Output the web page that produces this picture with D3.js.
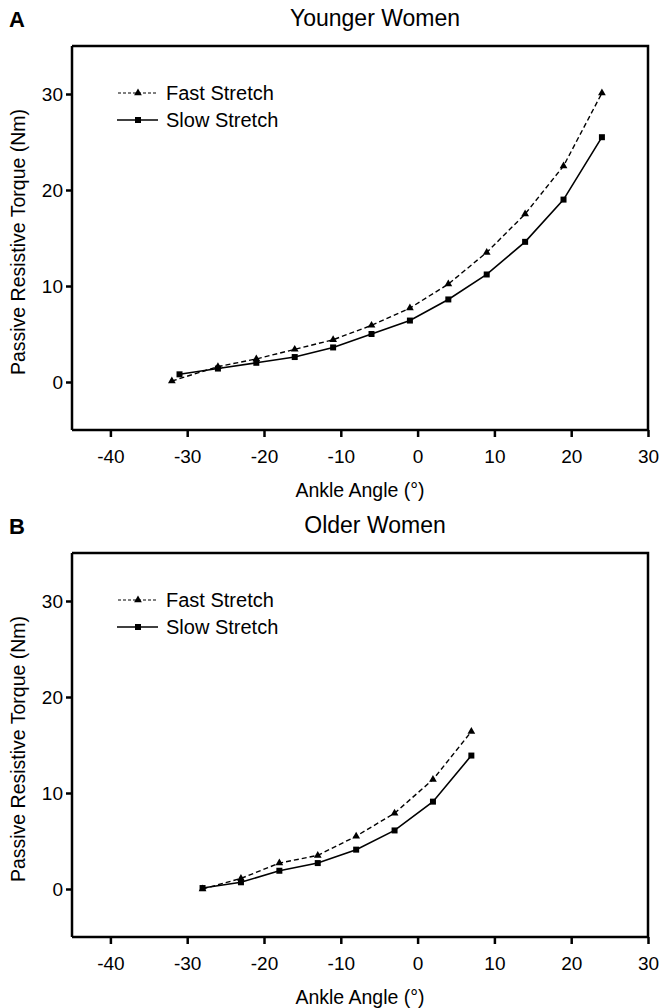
<!DOCTYPE html>
<html><head><meta charset="utf-8">
<script src="https://cdn.jsdelivr.net/npm/d3@7/dist/d3.min.js"></script>
<style>
html,body{margin:0;padding:0;background:#fff;}
text{font-family:"Liberation Sans",Arial,Helvetica,sans-serif;fill:#000;}
</style></head><body>
<svg id="chart" width="661" height="1008"></svg>
<script>
// ---- data ----
const panelLetters = ["A", "B"];
const panelTitles = ["Younger Women", "Older Women"];
const seriesNames = ["Fast Stretch", "Slow Stretch"];
const xTicks = [-40, -30, -20, -10, 0, 10, 20, 30];
const yTicks = [0, 10, 20, 30];
const xLabel = "Ankle Angle (°)";
const yLabel = "Passive Resistive Torque (Nm)";

const youngFastAngle = [-32, -26, -21, -16, -11, -6, -1, 4, 9, 14, 19, 24];
const youngFastTorque = [0.1, 1.6, 2.4, 3.4, 4.4, 5.9, 7.7, 10.2, 13.5, 17.5, 22.5, 30.1];
const youngSlowAngle = [-31, -26, -21, -16, -11, -6, -1, 4, 9, 14, 19, 24];
const youngSlowTorque = [0.8, 1.4, 2.0, 2.6, 3.6, 5.0, 6.4, 8.6, 11.2, 14.6, 19.0, 25.5];

const oldFastAngle = [-28, -23, -18, -13, -8, -3, 2, 7];
const oldFastTorque = [0.0, 1.1, 2.7, 3.5, 5.5, 7.9, 11.4, 16.4];
const oldSlowAngle = [-28, -23, -18, -13, -8, -3, 2, 7];
const oldSlowTorque = [0.1, 0.7, 1.9, 2.7, 4.1, 6.1, 9.1, 13.9];

const zip = (xs, ys) => xs.map((x, i) => ({x, y: ys[i]}));
const panels = [
  {letter: panelLetters[0], title: panelTitles[0],
   fast: zip(youngFastAngle, youngFastTorque), slow: zip(youngSlowAngle, youngSlowTorque)},
  {letter: panelLetters[1], title: panelTitles[1],
   fast: zip(oldFastAngle, oldFastTorque), slow: zip(oldSlowAngle, oldSlowTorque)}
];

// ---- layout ----
const svg = d3.select("#chart");
const L = 72, R = 648, T = 46, B = 430, panelOffset = 507;
const FS = 19;

const x = d3.scaleLinear().domain([-45, 30]).range([L, R]);
const y = d3.scaleLinear().domain([-5, 35]).range([B, T]);

const tri = d3.symbol().type(d3.symbolTriangle).size(26);
const sq = d3.symbol().type(d3.symbolSquare).size(36);
const line = d3.line().x(d => x(d.x)).y(d => y(d.y));
const fmt = d => String(d);

panels.forEach((p, i) => {
  const g = svg.append("g").attr("transform", `translate(0,${i * panelOffset})`);

  // panel letter and title
  g.append("text").attr("x", 9).attr("y", 27).attr("font-size", 22)
    .attr("font-weight", "bold").text(p.letter);
  g.append("text").attr("x", 375).attr("y", 26).attr("font-size", 23)
    .attr("text-anchor", "middle").text(p.title);

  // frame (top and right)
  g.append("path")
    .attr("d", `M${L},${T}H${R}V${B}`)
    .attr("fill", "none").attr("stroke", "#000").attr("stroke-width", 2.5);

  // x axis
  const xa = g.append("g").attr("transform", `translate(0,${B})`)
    .call(d3.axisBottom(x).tickValues(xTicks).tickSize(7).tickPadding(13).tickFormat(fmt));
  xa.select(".domain").attr("stroke-width", 2.5).attr("d", `M${L},0H${R}`);
  xa.selectAll(".tick line").attr("stroke-width", 2.5);
  xa.selectAll(".tick text").attr("font-size", FS).attr("font-family", null);

  // y axis
  const ya = g.append("g").attr("transform", `translate(${L},0)`)
    .call(d3.axisLeft(y).tickValues(yTicks).tickSize(6).tickPadding(3).tickFormat(fmt));
  ya.select(".domain").attr("stroke-width", 2.5).attr("d", `M0,${T}V${B}`);
  ya.selectAll(".tick line").attr("stroke-width", 2.5);
  ya.selectAll(".tick text").attr("font-size", FS).attr("font-family", null);

  // axis labels
  g.append("text").attr("x", 360).attr("y", 497).attr("font-size", 19.5)
    .attr("text-anchor", "middle").text(xLabel);
  g.append("text").attr("transform", `translate(25,242) rotate(-90)`)
    .attr("font-size", 19.5).attr("text-anchor", "middle").text(yLabel);

  // series
  g.append("path").datum(p.fast).attr("d", line).attr("fill", "none")
    .attr("stroke", "#000").attr("stroke-width", 1.4).attr("stroke-dasharray", "5,3");
  g.append("path").datum(p.slow).attr("d", line).attr("fill", "none")
    .attr("stroke", "#000").attr("stroke-width", 1.6);
  g.selectAll(".tri").data(p.fast).join("path").attr("class", "tri")
    .attr("d", tri).attr("transform", d => `translate(${x(d.x)},${y(d.y)})`);
  g.selectAll(".sq").data(p.slow).join("path").attr("class", "sq")
    .attr("d", sq).attr("transform", d => `translate(${x(d.x)},${y(d.y)})`);

  // legend
  const lg = g.append("g");
  const ly = [93, 120];
  lg.append("line").attr("x1", 118).attr("x2", 158).attr("y1", ly[0]).attr("y2", ly[0])
    .attr("stroke", "#000").attr("stroke-width", 1.2).attr("stroke-dasharray", "3,2");
  lg.append("path").attr("d", tri).attr("transform", `translate(138,${ly[0]})`);
  lg.append("line").attr("x1", 117).attr("x2", 158).attr("y1", ly[1]).attr("y2", ly[1])
    .attr("stroke", "#000").attr("stroke-width", 1.6);
  lg.append("path").attr("d", sq).attr("transform", `translate(138,${ly[1]})`);
  seriesNames.forEach((n, k) => {
    lg.append("text").attr("x", 166).attr("y", ly[k] + 7).attr("font-size", 20).text(n);
  });
});
</script>
</body></html>
